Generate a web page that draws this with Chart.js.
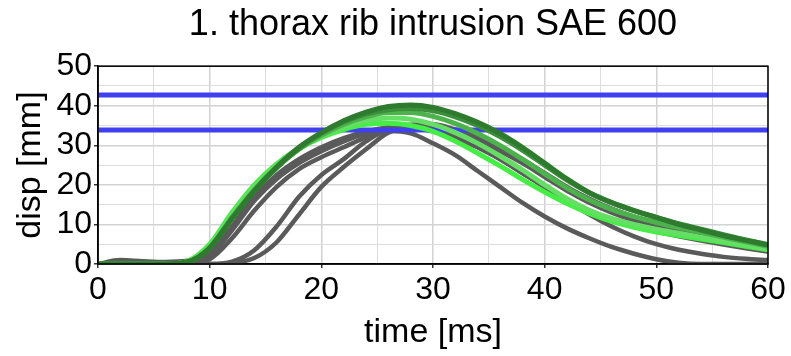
<!DOCTYPE html>
<html>
<head>
<meta charset="utf-8">
<script src="https://cdn.jsdelivr.net/npm/chart.js@4.4.1/dist/chart.umd.min.js"></script>
<style>
    html, body { margin: 0; padding: 0; background: #fff; }
    #wrap { width: 791px; height: 356px; }
</style>
</head>
<body>
<div id="wrap"><canvas id="myChart" width="791" height="356"></canvas></div>
<script>
// time axis [ms]
const times = [0, 2, 4, 6, 8, 10, 12, 14, 16, 18, 20, 22, 24, 26, 28, 30,
    32, 34, 36, 38, 40, 42, 44, 46, 48, 50, 52, 54, 56, 58, 60];

// green curves [mm]
const green1 = [0, 0, 0, 0, 0.5, 4, 11.5, 18.5, 24.5, 29.5, 33.2, 36.2, 38.4, 39.8, 40.2, 39.6,
    38, 35.8, 33, 29.5, 25.5, 21.5, 18, 15.5, 13.5, 11.8, 10, 8.6, 7.2, 6, 4.8];
const green2 = [0, 0, 0, 0, 0.5, 4, 11.5, 18.5, 24.3, 29.2, 33, 35.9, 37.9, 39, 39.3, 38.7,
    37.2, 35, 32.2, 28.8, 25, 21.2, 18, 15.5, 13.5, 11.8, 10.2, 8.8, 7.4, 6.1, 4.9];
const green3 = [0, 0, 0, 0, 0.5, 4.2, 11.8, 18.8, 24.5, 29, 32.5, 35.3, 37.2, 38.3, 38.3, 37.3,
    35.5, 33, 30, 26.5, 22.8, 19.2, 16.2, 13.8, 12, 10.5, 9.2, 8, 6.8, 5.6, 4.5];
const green4 = [0, 0, 0, 0, 0.6, 4.5, 12.5, 19.5, 25, 29.2, 32.3, 34.6, 36.2, 36.9, 36.6, 35.3,
    33.2, 30.5, 27.3, 23.8, 20, 16.5, 13.6, 11.5, 10, 8.8, 7.8, 6.8, 5.8, 4.8, 3.8];
const green5 = [0, 0, 0, 0, 0.7, 5, 13, 20, 25.3, 29.2, 32, 34, 35.3, 35.6, 35, 33.5,
    31, 28, 24.8, 21.4, 18.2, 15.3, 12.8, 10.8, 9.3, 8.1, 7.2, 6.3, 5.4, 4.5, 3.6];

// grey curves [mm]
const grey1 = [0, 0, 0, 0, 0.3, 2, 8.5, 16, 21.5, 25.5, 28.5, 31, 33, 34.5, 35, 34.5,
    33, 31, 28.5, 25.5, 22, 18.5, 15.5, 13, 11, 9.4, 8, 6.8, 5.6, 4.5, 3.5];
const grey2 = [0, 0, 0, 0, 0.2, 1.2, 6.5, 13.5, 19.5, 24, 27, 29.5, 32, 33.8, 34.3, 33.5,
    32, 29.5, 26.5, 23, 19.5, 16.2, 13.5, 11.3, 9.6, 8.2, 7, 5.9, 4.9, 4, 3.1];
const grey3 = [0, 0, 0, 0, 0, 0, 0.6, 3.5, 9.5, 17, 22.5, 26.5, 31, 33.6, 33, 30.5,
    27.5, 23.5, 19.5, 15.5, 12, 9, 6.5, 4.3, 2.6, 1.2, 0.3, 0, 0, 0, 0];
const grey4 = [0, 0, 0, 0, 0, 0, 0.2, 1.5, 5.5, 12.5, 19.5, 24.5, 29, 33.2, 34.5, 34,
    32, 29.5, 26.5, 23, 19.5, 16, 12.5, 9.5, 7, 5, 3.6, 2.6, 1.8, 1.3, 1];
const grey5 = [0, 1, 0.7, 0.5, 0.8, 2.5, 9.5, 17, 22.5, 26.5, 29.5, 31.8, 33.5, 34.6, 35.2, 35.3,
    34, 32, 29.5, 26.5, 23, 19.5, 16.5, 14, 12, 10.5, 9, 7.6, 6.3, 5.2, 4.2];

// limit lines [mm]
const limits = [42.7, 33.9];

const greens = [green1, green2, green3, green4, green5];
const greenColors = ['#2e7a2e', '#3b8f3b', '#4cb34c', '#66de66', '#45ee45'];
const greys = [grey1, grey2, grey3, grey4, grey5];

function toPoints(values) {
    return values.map((v, i) => ({ x: times[i], y: v }));
}

const datasets = [];

// greens drawn on top (lower order)
greens.forEach((vals, i) => {
    datasets.push({
        data: toPoints(vals),
        borderColor: greenColors[i],
        borderWidth: 5,
        pointRadius: 0,
        cubicInterpolationMode: 'monotone',
        order: 1
    });
});

limits.forEach(v => {
    datasets.push({
        data: [{ x: times[0], y: v }, { x: times[times.length - 1], y: v }],
        borderColor: 'rgb(64, 64, 240)',
        borderWidth: 5,
        pointRadius: 0,
        order: 2
    });
});

greys.forEach(vals => {
    datasets.push({
        data: toPoints(vals),
        borderColor: '#5a5a5a',
        borderWidth: 4.5,
        pointRadius: 0,
        cubicInterpolationMode: 'monotone',
        order: 3
    });
});

// cadre noir autour de la zone du graphique
const framePlugin = {
    id: 'frame',
    afterDraw(chart) {
        const { ctx, chartArea: a } = chart;
        ctx.save();
        ctx.strokeStyle = '#000';
        ctx.lineWidth = 1.5;
        ctx.strokeRect(a.left, a.top, a.right - a.left, a.bottom - a.top);
        ctx.restore();
    }
};

const fontFamily = '"Liberation Sans", Arial, sans-serif';
const isMajor = ctx => ctx.tick && ctx.tick.value % 10 === 0;

const gridOpts = {
    color: ctx => isMajor(ctx) ? '#d2d2d2' : '#dcdcdc',
    lineWidth: ctx => isMajor(ctx) ? 1.5 : 1,
    borderDash: ctx => isMajor(ctx) ? [] : [2, 3],
    tickColor: ctx => isMajor(ctx) ? '#333' : 'rgba(0,0,0,0)',
    tickLength: 4
};

const config = {
    type: 'line',
    data: { datasets: datasets },
    options: {
        responsive: false,
        animation: false,
        layout: { padding: { left: 0, right: 23, top: 0, bottom: 0 } },
        plugins: {
            legend: { display: false },
            tooltip: { enabled: false },
            title: {
                display: true,
                fullSize: false,
                text: '1. thorax rib intrusion SAE 600',
                color: '#000',
                font: { family: fontFamily, size: 36, weight: 'normal', lineHeight: 1.2 },
                padding: { top: 3, bottom: 20 }
            }
        },
        scales: {
            x: {
                type: 'linear',
                min: 0,
                max: 60,
                ticks: {
                    stepSize: 5,
                    autoSkip: false,
                    maxRotation: 0,
                    padding: 3,
                    color: '#000',
                    font: { family: fontFamily, size: 32 },
                    callback: v => v % 10 === 0 ? v : ''
                },
                grid: gridOpts,
                border: { color: '#000', width: 1.5 },
                title: {
                    display: true,
                    text: 'time [ms]',
                    color: '#000',
                    font: { family: fontFamily, size: 34 },
                    padding: { top: 0, bottom: 3 }
                },
                afterFit: s => { s.height = 92; }
            },
            y: {
                type: 'linear',
                min: 0,
                max: 50,
                ticks: {
                    stepSize: 5,
                    autoSkip: false,
                    padding: 2,
                    color: '#000',
                    font: { family: fontFamily, size: 32 },
                    callback: v => v % 10 === 0 ? v : ''
                },
                grid: gridOpts,
                border: { color: '#000', width: 1.5 },
                title: {
                    display: true,
                    text: 'disp [mm]',
                    color: '#000',
                    font: { family: fontFamily, size: 34 },
                    padding: { top: 10, bottom: 0 }
                },
                afterFit: s => { s.width = 98; }
            }
        }
    },
    plugins: [framePlugin]
};

const myChart = new Chart(
    document.getElementById('myChart'),
    config
);
</script>
</body>
</html>
